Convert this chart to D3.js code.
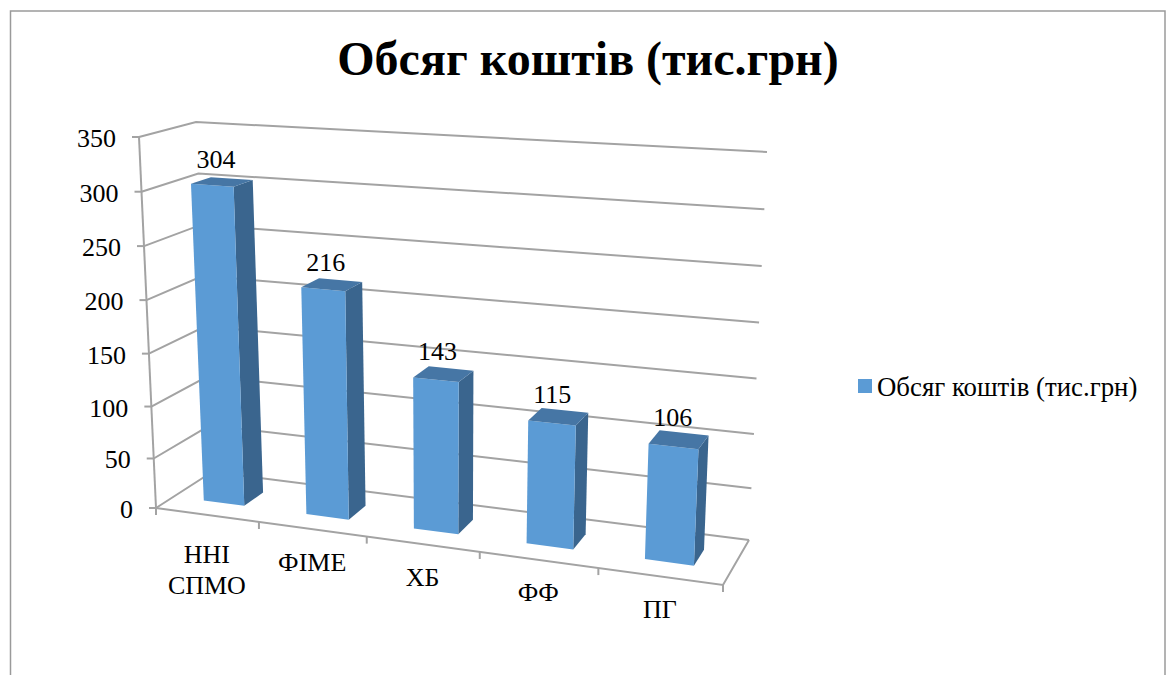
<!DOCTYPE html>
<html>
<head>
<meta charset="utf-8">
<script src="https://d3js.org/d3.v7.min.js"></script>
<style>
html, body { margin: 0; padding: 0; background: #fff; overflow: hidden; }
text { font-family: "Liberation Serif", serif; fill: #000; }
</style>
</head>
<body>
<div id="box"></div>
<script>
var w = 1168,
    h = 675;

var titleText = "Обсяг коштів (тис.грн)";
var seriesName = "Обсяг коштів (тис.грн)";
var categories = ["ННІ\nСПМО", "ФІМЕ", "ХБ", "ФФ", "ПГ"];
var values = [304, 216, 143, 115, 106];
var yTicks = [0, 50, 100, 150, 200, 250, 300, 350];

// corners of the 3d box on screen: f = front, b = back, l/r, 0 = floor, 1 = top
var box3d = {
  fl0: [156, 508], fl1: [139, 137],
  bl0: [212, 472], bl1: [196, 122],
  br0: [749, 540], br1: [767, 152],
  fr0: [723, 585], fr1: [741, 174]
};

var band = d3.scaleBand()
             .domain(categories)
             .range([0, 5])
             .paddingInner(0.6)
             .paddingOuter(0.3);

// foreshortening, the categories get wider to the right
var xScale = function(t) {
  var u = t / 5;
  return u / (u + 1.127 * (1 - u));
};

var yScale = d3.scalePow()
               .exponent(1.035)
               .domain([0, 350])
               .range([0, 1]);

var project = function(t, z, v) {
  var u = xScale(t),
      n = yScale(v);
  var mix = d3.interpolateNumber;
  var at = function(i) {
    var f0 = mix(box3d.fl0[i], box3d.fr0[i])(u),
        b0 = mix(box3d.bl0[i], box3d.br0[i])(u),
        f1 = mix(box3d.fl1[i], box3d.fr1[i])(u),
        b1 = mix(box3d.bl1[i], box3d.br1[i])(u);
    return mix(mix(f0, b0)(z), mix(f1, b1)(z))(n);
  };
  return [at(0), at(1)];
};

var svg = d3.select("#box")
            .append("svg")
            .attr("width", w)
            .attr("height", h);

var gray = "#a3a3a3";

// frame, cut by the bottom of the picture
svg.append("path")
   .attr("d", "M10.5,675V11H1165V675")
   .attr("fill", "none")
   .attr("stroke", "#9a9a9a")
   .attr("stroke-width", 1.5);

svg.append("text")
   .text(titleText)
   .attr("x", 588)
   .attr("y", 75)
   .attr("text-anchor", "middle")
   .attr("font-size", "48px")
   .attr("font-weight", "bold");

var line = d3.line();

// side wall and back wall lines
svg.selectAll(".grid")
   .data(yTicks)
   .enter()
   .append("path")
   .attr("class", "grid")
   .attr("d", function(d) {
     return line([project(0, 0, d), project(0, 1, d), project(5, 1, d)]);
   })
   .attr("fill", "none")
   .attr("stroke", gray)
   .attr("stroke-width", 2);

// axes
svg.append("path")
   .attr("d", line([project(0, 0, 0), project(0, 0, 350)]))
   .attr("stroke", gray)
   .attr("stroke-width", 2);

svg.append("path")
   .attr("d", line([project(0, 0, 0), project(5, 0, 0), project(5, 1, 0)]))
   .attr("fill", "none")
   .attr("stroke", gray)
   .attr("stroke-width", 2);

svg.selectAll(".ytick")
   .data(yTicks)
   .enter()
   .append("line")
   .attr("class", "ytick")
   .attr("x1", function(d) { return project(0, 0, d)[0] - 7; })
   .attr("x2", function(d) { return project(0, 0, d)[0]; })
   .attr("y1", function(d) { return project(0, 0, d)[1]; })
   .attr("y2", function(d) { return project(0, 0, d)[1]; })
   .attr("stroke", gray)
   .attr("stroke-width", 2);

svg.selectAll(".xtick")
   .data(d3.range(categories.length + 1))
   .enter()
   .append("line")
   .attr("class", "xtick")
   .attr("x1", function(d) { return project(d, 0, 0)[0]; })
   .attr("x2", function(d) { return project(d, 0, 0)[0]; })
   .attr("y1", function(d) { return project(d, 0, 0)[1]; })
   .attr("y2", function(d) { return project(d, 0, 0)[1] + 7; })
   .attr("stroke", gray)
   .attr("stroke-width", 2);

svg.selectAll(".ylabel")
   .data(yTicks)
   .enter()
   .append("text")
   .attr("class", "ylabel")
   .text(function(d) { return d; })
   .attr("x", function(d) { return project(0, 0, d)[0] - 23; })
   .attr("y", function(d) { return project(0, 0, d)[1] + 10; })
   .attr("text-anchor", "end")
   .attr("font-size", "26px");

// bars, each one is side, front and top
var zFront = 0.32,
    zBack = 0.68;

var bars = svg.selectAll(".bar")
              .data(categories)
              .enter()
              .append("g")
              .attr("class", "bar");

var x0 = function(d) { return band(d); };
var x1 = function(d) { return band(d) + band.bandwidth(); };
var val = function(d) { return values[categories.indexOf(d)]; };

bars.append("path")
    .attr("d", function(d) {
      return line([project(x1(d), zFront, 0), project(x1(d), zBack, 0),
                   project(x1(d), zBack, val(d)), project(x1(d), zFront, val(d))]) + "Z";
    })
    .attr("fill", "#3a658e");

bars.append("path")
    .attr("d", function(d) {
      return line([project(x0(d), zFront, 0), project(x1(d), zFront, 0),
                   project(x1(d), zFront, val(d)), project(x0(d), zFront, val(d))]) + "Z";
    })
    .attr("fill", "#5b9bd5");

bars.append("path")
    .attr("d", function(d) {
      return line([project(x0(d), zFront, val(d)), project(x1(d), zFront, val(d)),
                   project(x1(d), zBack, val(d)), project(x0(d), zBack, val(d))]) + "Z";
    })
    .attr("fill", "#4676a5");

// data labels
bars.append("text")
    .text(val)
    .attr("x", function(d) { return project(band(d) + band.bandwidth() / 2, 0.5, val(d))[0] - 6; })
    .attr("y", function(d) { return project(band(d) + band.bandwidth() / 2, 0.5, val(d))[1] - 14; })
    .attr("text-anchor", "middle")
    .attr("font-size", "26px");

// category labels
var catLabels = svg.selectAll(".xlabel")
                   .data(categories)
                   .enter()
                   .append("text")
                   .attr("class", "xlabel")
                   .attr("text-anchor", "middle")
                   .attr("font-size", "26px");

catLabels.each(function(d) {
  var p = project(band(d) + band.bandwidth() / 2, 0, 0);
  var rows = d.split("\n");
  d3.select(this)
    .selectAll("tspan")
    .data(rows)
    .enter()
    .append("tspan")
    .text(function(r) { return r; })
    .attr("x", p[0])
    .attr("y", function(r, i) { return p[1] + 41.5 + (i + (rows.length > 1 ? 0.2 : 0)) * 31; });
});

// legend
svg.append("rect")
   .attr("x", 858)
   .attr("y", 379)
   .attr("width", 14)
   .attr("height", 14)
   .attr("fill", "#5b9bd5");

svg.append("text")
   .text(seriesName)
   .attr("x", 877)
   .attr("y", 396)
   .attr("font-size", "26.8px");
</script>
</body>
</html>
